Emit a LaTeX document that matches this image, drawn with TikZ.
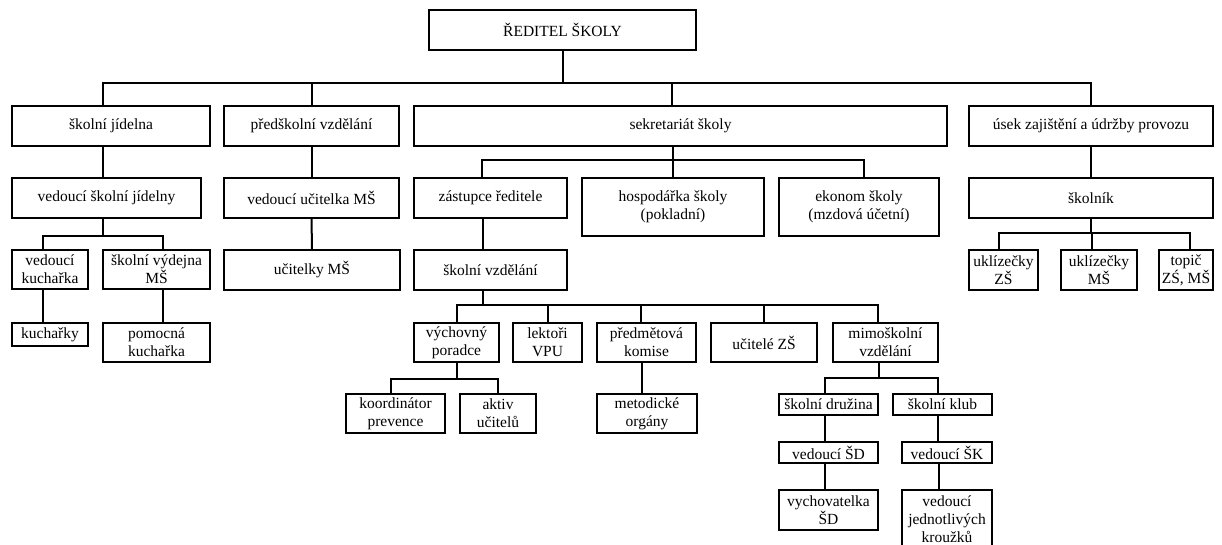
\documentclass[tikz,border=0pt]{standalone}
\usepackage{fontspec}
\setmainfont{Liberation Serif}
\usepackage{tikz}

\tikzset{
  box/.style={draw, line width=2pt, align=center, inner sep=1pt,
    font=\fontsize{15.5}{18}\selectfont},
  link/.style={line width=2pt}
}

\begin{document}
\begin{tikzpicture}[x=1pt,y=-1pt]
\useasboundingbox (0,0) rectangle (1222,544);

% vedení
\node[box, minimum width=267pt, minimum height=40pt] (reditel) at (562.5,30) {ŘEDITEL ŠKOLY};

% úseky
\node[box, minimum width=198pt, minimum height=40pt] (jidelna) at (111,126) {školní jídelna};
\node[box, minimum width=175pt, minimum height=40pt] (predskol) at (311.5,126) {předškolní vzdělání};
\node[box, minimum width=533pt, minimum height=40pt] (sekret) at (680.5,126) {sekretariát školy};
\node[box, minimum width=244pt, minimum height=40pt] (usek) at (1091,126) {úsek zajištění a údržby provozu};

% druhá úroveň
\node[box, minimum width=189pt, minimum height=40pt] (vedjid) at (106.5,198) {vedoucí školní jídelny};
\node[box, minimum width=175pt, minimum height=40pt] (veducit) at (311.5,198) {vedoucí učitelka MŠ};
\node[box, minimum width=153pt, minimum height=40pt] (zastupce) at (490.5,198) {zástupce ředitele};
\node[box, minimum width=182pt, minimum height=58pt] (hospod) at (673,207) {hospodářka školy\\(pokladní)};
\node[box, minimum width=160pt, minimum height=58pt] (ekonom) at (859,207) {ekonom školy\\(mzdová účetní)};
\node[box, minimum width=244pt, minimum height=40pt] (skolnik) at (1091,198) {školník};

% třetí úroveň
\node[box, minimum width=76pt, minimum height=39pt] (vedkuch) at (50,269.5) {vedoucí\\kuchařka};
\node[box, minimum width=107pt, minimum height=39pt] (vydejna) at (156.5,269.5) {školní výdejna\\MŠ};
\node[box, minimum width=176pt, minimum height=40pt] (ucitms) at (312,270) {učitelky MŠ};
\node[box, minimum width=153pt, minimum height=40pt] (skolvzd) at (490.5,270) {školní vzdělání};
\node[box, minimum width=69pt, minimum height=40pt] (uklzs) at (1003.5,270) {uklízečky\\ZŠ};
\node[box, minimum width=76pt, minimum height=40pt] (uklms) at (1099,270) {uklízečky\\MŠ};
\node[box, minimum width=54pt, minimum height=40pt] (topic) at (1186,270) {topič\\ZŚ, MŠ};

% čtvrtá úroveň
\node[box, minimum width=76pt, minimum height=23pt] (kucharky) at (50,334.5) {kuchařky};
\node[box, minimum width=107pt, minimum height=39pt] (pomocna) at (156.5,342.5) {pomocná\\kuchařka};
\node[box, minimum width=85pt, minimum height=39pt] (vychporad) at (456.5,342.5) {výchovný\\poradce};
\node[box, minimum width=69pt, minimum height=39pt] (lektori) at (547.5,342.5) {lektoři\\VPU};
\node[box, minimum width=99pt, minimum height=39pt] (predmet) at (646.5,342.5) {předmětová\\komise};
\node[box, minimum width=106pt, minimum height=39pt] (ucitzs) at (764,342.5) {učitelé ZŠ};
\node[box, minimum width=105pt, minimum height=39pt] (mimosk) at (885.5,342.5) {mimoškolní\\vzdělání};

% pátá úroveň
\node[box, minimum width=99pt, minimum height=39pt] (koord) at (395.5,413.5) {koordinátor\\prevence};
\node[box, minimum width=76pt, minimum height=39pt] (aktiv) at (498,413.5) {aktiv\\učitelů};
\node[box, minimum width=100pt, minimum height=39pt] (metod) at (647,413.5) {metodické\\orgány};
\node[box, minimum width=99pt, minimum height=21pt] (druzina) at (828.5,404.5) {školní družina};
\node[box, minimum width=99pt, minimum height=21pt] (klub) at (942.5,404.5) {školní klub};
\node[box, minimum width=99pt, minimum height=21pt] (vedsd) at (828.5,452.5) {vedoucí ŠD};
\node[box, minimum width=90pt, minimum height=21pt] (vedsk) at (947,452.5) {vedoucí ŠK};
\node[box, minimum width=99pt, minimum height=40pt] (vychsd) at (828.5,510) {vychovatelka\\ŠD};
\node[box, minimum width=90pt, minimum height=58pt] (vedkr) at (947,519) {vedoucí\\jednotlivých\\kroužků};

% ředitel -> úseky
\draw[link] (reditel.south) -- ++(0,32) coordinate (b1);
\draw[link] ([xshift=-8pt]jidelna.north) |- (b1) -| (usek.north);
\draw[link] (predskol.north) -- (predskol.north |- b1);
\draw[link] ([xshift=-8.5pt]sekret.north) -- ([xshift=-8.5pt]sekret.north |- b1);

% školní jídelna
\draw[link] ([xshift=-8pt]jidelna.south) -- ([xshift=-8pt]jidelna.south |- vedjid.north);
\draw[link] ([xshift=-3.5pt]vedjid.south) -- ++(0,17) coordinate (b2);
\draw[link] ([xshift=-7pt]vedkuch.north) |- (b2) -| ([xshift=6.5pt]vydejna.north);
\draw[link] ([xshift=-7pt]vedkuch.south) -- ([xshift=-7pt]vedkuch.south |- kucharky.north);
\draw[link] ([xshift=6.5pt]vydejna.south) -- ([xshift=6.5pt]vydejna.south |- pomocna.north);

% předškolní vzdělání
\draw[link] (predskol) -- (veducit);
\draw[link] (veducit) -- (ucitms);

% sekretariát
\draw[link] (hospod.north |- sekret.south) -- (hospod.north);
\draw[link] ([xshift=-8.5pt]zastupce.north) -- ++(0,-17) coordinate (b3) -| ([xshift=5pt]ekonom.north);
\draw[link] ([xshift=-7.5pt]zastupce.south) -- ([xshift=-7.5pt]zastupce.south |- skolvzd.north);

% školní vzdělání
\draw[link] ([xshift=-7.5pt]skolvzd.south) -- ++(0,14) coordinate (b4);
\draw[link] (vychporad.north) |- (b4) -| ([xshift=-7.5pt]mimosk.north);
\draw[link] (lektori.north) -- (lektori.north |- b4);
\draw[link] ([xshift=-5.5pt]predmet.north) -- ([xshift=-5.5pt]predmet.north |- b4);
\draw[link] (ucitzs.north) -- (ucitzs.north |- b4);

\draw[link] (vychporad.south) -- ++(0,16) coordinate (b5);
\draw[link] ([xshift=-4.5pt]koord.north) |- (b5) -| (aktiv.north);
\draw[link] ([xshift=-5pt]metod.north |- predmet.south) -- ([xshift=-5pt]metod.north);

% mimoškolní vzdělání
\draw[link] ([xshift=-6.5pt]mimosk.south) -- ++(0,15) coordinate (b6);
\draw[link] ([xshift=-3.5pt]druzina.north) |- (b6) -| ([xshift=-4.5pt]klub.north);
\draw[link] ([xshift=-3.5pt]druzina.south) -- ([xshift=-3.5pt]druzina.south |- vedsd.north);
\draw[link] ([xshift=-3.5pt]vedsd.south) -- ([xshift=-3.5pt]vedsd.south |- vychsd.north);
\draw[link] ([xshift=-4.5pt]klub.south) -- ([xshift=-4.5pt]klub.south |- vedsk.north);
\draw[link] ([xshift=-8pt]vedsk.south) -- ([xshift=-8pt]vedsk.south |- vedkr.north);

% provoz
\draw[link] (usek) -- (skolnik);
\draw[link] (skolnik.south) -- ++(0,14) coordinate (b7);
\draw[link] ([xshift=-4.5pt]uklzs.north) |- (b7) -| ([xshift=4pt]topic.north);
\draw[link] ([xshift=-7pt]uklms.north) -- ([xshift=-7pt]uklms.north |- b7);

\end{tikzpicture}
\end{document}
